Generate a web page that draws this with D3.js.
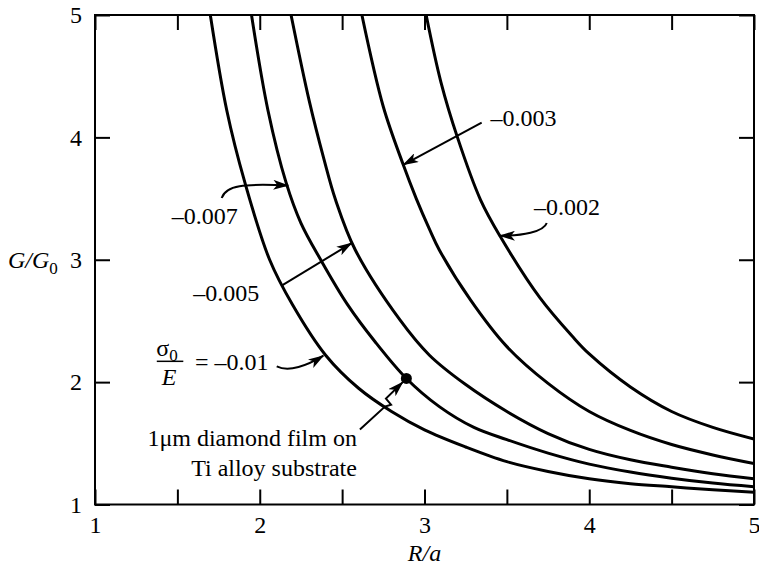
<!DOCTYPE html>
<html>
<head>
<meta charset="utf-8">
<script src="https://cdn.jsdelivr.net/npm/d3@7"></script>
<style>
  body { margin: 0; background: #fff; }
  text { font-family: 'Liberation Serif', 'Times New Roman', serif; fill: #000; }
</style>
</head>
<body>
<script>
// ticks
const xTicks = [1, 1.5, 2, 2.5, 3, 3.5, 4, 4.5, 5];
const yTicks = [1, 2, 3, 4, 5];

// sigma0/E labels, one per curve
const stressLabels = ['–0.01', '–0.007', '–0.005', '–0.003', '–0.002'];

// R/a and G/G0
const ra001 = [1.70, 1.80, 1.91, 2.06, 2.2, 2.4, 2.6, 2.8, 3.0, 3.25, 3.5, 3.75, 4.0, 4.25, 4.5, 4.75, 5.0];
const gg001 = [5.0, 4.22, 3.63, 3.0, 2.63, 2.22, 1.95, 1.76, 1.61, 1.47, 1.35, 1.27, 1.21, 1.17, 1.145, 1.12, 1.10];

const ra0007 = [1.95, 2.05, 2.16, 2.25, 2.37, 2.53, 2.7, 2.89, 3.09, 3.3, 3.5, 3.75, 4.0, 4.25, 4.5, 4.75, 5.0];
const gg0007 = [5.0, 4.22, 3.63, 3.30, 3.0, 2.64, 2.33, 2.03, 1.80, 1.63, 1.53, 1.42, 1.33, 1.265, 1.215, 1.175, 1.145];

const ra0005 = [2.19, 2.30, 2.39, 2.46, 2.58, 2.85, 3.03, 3.25, 3.5, 3.75, 4.0, 4.25, 4.5, 4.75, 5.0];
const gg0005 = [5.0, 4.3, 3.82, 3.49, 3.08, 2.51, 2.22, 1.98, 1.76, 1.58, 1.45, 1.365, 1.305, 1.252, 1.21];

const ra0003 = [2.62, 2.75, 2.87, 2.95, 3.03, 3.09, 3.28, 3.5, 3.75, 4.0, 4.25, 4.5, 4.75, 5.0];
const gg0003 = [5.0, 4.25, 3.78, 3.50, 3.25, 3.08, 2.67, 2.29, 1.99, 1.76, 1.605, 1.49, 1.405, 1.335];

const ra0002 = [3.01, 3.10, 3.20, 3.34, 3.46, 3.70, 3.90, 4.0, 4.25, 4.5, 4.75, 5.0];
const gg0002 = [5.0, 4.45, 4.0, 3.49, 3.19, 2.69, 2.37, 2.23, 1.96, 1.76, 1.63, 1.535];

// 1um diamond film on Ti alloy
const filmPoint = [2.89, 2.03];

const width = 759, height = 566;
const svg = d3.select('body').append('svg')
  .attr('width', width)
  .attr('height', height);

const x = d3.scaleLinear().domain([1, 5]).range([95, 754]);
const y = d3.scaleLinear().domain([1, 5]).range([504.5, 15]);

const curves = [
  [ra001, gg001], [ra0007, gg0007], [ra0005, gg0005], [ra0003, gg0003], [ra0002, gg0002]
].map(([rs, gs], i) => ({ label: stressLabels[i], pts: rs.map((r, j) => [r, gs[j]]) }));

svg.append('defs').append('clipPath').attr('id', 'plot-clip')
  .append('rect')
  .attr('x', x(1)).attr('y', y(5))
  .attr('width', x(5) - x(1)).attr('height', y(1) - y(5));

const marker = svg.select('defs').append('marker')
  .attr('id', 'head')
  .attr('viewBox', '0 -5 16 10')
  .attr('refX', 15).attr('refY', 0)
  .attr('markerWidth', 16).attr('markerHeight', 10)
  .attr('markerUnits', 'userSpaceOnUse')
  .attr('orient', 'auto');
marker.append('path').attr('d', 'M0,-5L16,0L0,5L4,0Z').attr('fill', '#000');

// axes, ticks pointing inward
const fmt = d => Number.isInteger(d) ? d : '';

svg.append('g')
  .attr('transform', `translate(0,${y(1)})`)
  .call(d3.axisBottom(x).tickValues(xTicks).tickSize(-15).tickPadding(11).tickFormat(fmt))
  .call(g => g.select('.domain').remove());

svg.append('g')
  .attr('transform', `translate(0,${y(5)})`)
  .call(d3.axisTop(x).tickValues(xTicks).tickSize(-15).tickFormat(''))
  .call(g => g.select('.domain').remove());

svg.append('g')
  .attr('transform', `translate(${x(1)},0)`)
  .call(d3.axisLeft(y).tickValues(yTicks).tickSize(-15).tickPadding(13).tickFormat(d3.format('d')))
  .call(g => g.select('.domain').remove());

svg.append('g')
  .attr('transform', `translate(${x(5)},0)`)
  .call(d3.axisRight(y).tickValues(yTicks).tickSize(-15).tickFormat(''))
  .call(g => g.select('.domain').remove());

svg.selectAll('.tick line').attr('stroke', '#000').attr('stroke-width', 2);
svg.selectAll('.tick text').attr('font-size', 24);

svg.append('rect')
  .attr('x', x(1)).attr('y', y(5))
  .attr('width', x(5) - x(1)).attr('height', y(1) - y(5))
  .attr('fill', 'none').attr('stroke', '#000').attr('stroke-width', 2);

// axis titles
const yTitle = svg.append('text')
  .attr('x', 8).attr('y', y(3) + 8)
  .attr('font-size', 24);
yTitle.append('tspan').attr('font-style', 'italic').text('G/G');
yTitle.append('tspan').attr('font-size', 17).attr('dy', 6).text('0');

svg.append('text')
  .attr('x', (x(1) + x(5)) / 2).attr('y', 561)
  .attr('text-anchor', 'middle')
  .attr('font-size', 24)
  .attr('font-style', 'italic')
  .text('R/a');

// curves
const line = d3.line()
  .x(d => x(d[0]))
  .y(d => y(d[1]))
  .curve(d3.curveCatmullRom.alpha(0.5));

svg.append('g')
  .attr('clip-path', 'url(#plot-clip)')
  .selectAll('path')
  .data(curves)
  .join('path')
  .attr('d', d => line(d.pts))
  .attr('fill', 'none')
  .attr('stroke', '#000')
  .attr('stroke-width', 3);

// labels and arrows
const notes = svg.append('g').attr('font-size', 24);
const arrow = (d) => notes.append('path')
  .attr('d', d)
  .attr('fill', 'none')
  .attr('stroke', '#000')
  .attr('stroke-width', 2)
  .attr('marker-end', 'url(#head)');
const P = (r, g) => [x(r), y(g)];

// -0.003
{
  const [sx, sy] = P(3.347, 4.12), [ex, ey] = P(2.871, 3.776);
  notes.append('text').attr('x', x(3.40)).attr('y', y(4.09)).text(stressLabels[3]);
  arrow(`M${sx},${sy}L${ex},${ey}`);
}
// -0.002
{
  const [sx, sy] = P(3.742, 3.30), [ex, ey] = P(3.458, 3.196);
  notes.append('text').attr('x', x(3.665)).attr('y', y(3.367)).text(stressLabels[4]);
  arrow(`M${sx},${sy}C${sx - 3},${sy + 9} ${ex + 22},${ey} ${ex},${ey}`);
}
// -0.007
{
  const [sx, sy] = P(1.769, 3.504), [ex, ey] = P(2.173, 3.607);
  notes.append('text').attr('x', x(1.466)).attr('y', y(3.294)).text(stressLabels[1]);
  arrow(`M${sx},${sy}C${sx + 4},${sy - 13} ${ex - 45},${ey - 2} ${ex},${ey}`);
}
// -0.005
{
  const [sx, sy] = P(2.133, 2.788), [ex, ey] = P(2.558, 3.136);
  notes.append('text').attr('x', x(1.597)).attr('y', y(2.66)).text(stressLabels[2]);
  arrow(`M${sx},${sy}L${ex},${ey}`);
}
// sigma0 / E = -0.01
{
  const sig = notes.append('text')
    .attr('x', x(1.437)).attr('y', y(2.211))
    .attr('text-anchor', 'middle');
  sig.append('tspan').text('σ');
  sig.append('tspan').attr('font-size', 17).attr('dy', 5).text('0');
  notes.append('line')
    .attr('x1', x(1.375)).attr('x2', x(1.536))
    .attr('y1', y(2.17)).attr('y2', y(2.17))
    .attr('stroke', '#000').attr('stroke-width', 1.5);
  notes.append('text')
    .attr('x', x(1.449)).attr('y', y(1.98))
    .attr('text-anchor', 'middle')
    .attr('font-style', 'italic')
    .text('E');
  notes.append('text').attr('x', x(1.607)).attr('y', y(2.10)).text('= ' + stressLabels[0]);
  const [sx, sy] = P(2.103, 2.129), [ex, ey] = P(2.386, 2.216);
  arrow(`M${sx},${sy}C${sx + 12},${sy + 6} ${ex - 16},${ey + 10} ${ex},${ey}`);
}
// film point
svg.append('circle')
  .attr('cx', x(filmPoint[0])).attr('cy', y(filmPoint[1]))
  .attr('r', 5.5)
  .attr('fill', '#000');
{
  const zig = [[2.608, 1.612], [2.760, 1.800], [2.797, 1.816], [2.766, 1.865], [2.868, 2.0]]
    .map(d => P(d[0], d[1]));
  arrow('M' + zig.map(p => p.join(',')).join('L'));
  notes.append('text').attr('x', x(2.59)).attr('y', y(1.476))
    .attr('text-anchor', 'end').text('1μm diamond film on');
  notes.append('text').attr('x', x(2.59)).attr('y', y(1.231))
    .attr('text-anchor', 'end').text('Ti alloy substrate');
}
</script>
</body>
</html>
